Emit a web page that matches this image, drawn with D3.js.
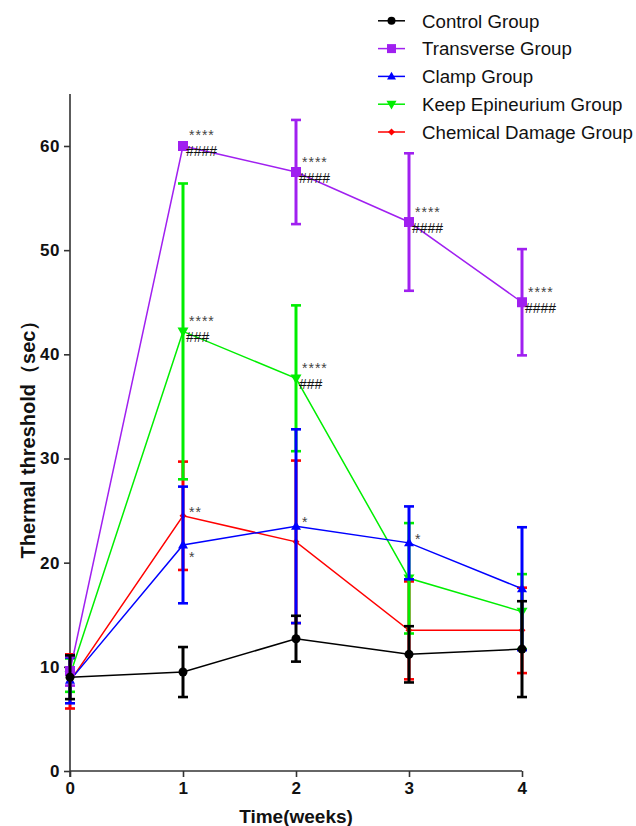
<!DOCTYPE html>
<html><head><meta charset="utf-8">
<script src="https://cdn.jsdelivr.net/npm/d3@7"></script>
<style>body{margin:0;background:#fff}svg{display:block}text{font-family:"Liberation Sans",Arial,sans-serif}</style>
</head><body><svg id="c" width="636" height="826"></svg>
<script>
const weeks = [0, 1, 2, 3, 4];
const yTicks = [0, 10, 20, 30, 40, 50, 60];
const seriesNames = ["Control Group", "Transverse Group", "Clamp Group", "Keep Epineurium Group", "Chemical Damage Group"];
const seriesColors = ["#000000", "#a020f0", "#0000ff", "#00ee00", "#ff0000"];
const seriesShapes = ["circle", "square", "triangle", "triangleDown", "diamond"];
const controlMean = [9.0, 9.5, 12.7, 11.2, 11.7];
const controlErr  = [2.1, 2.4, 2.2, 2.7, 4.6];
const transverseMean = [9.6, 60.0, 57.5, 52.7, 45.0];
const transverseErr  = [1.4, 0, 5.0, 6.6, 5.1];
const clampMean = [8.7, 21.7, 23.5, 21.9, 17.5];
const clampErr  = [2.2, 5.6, 9.3, 3.5, 5.9];
const keepMean = [9.2, 42.2, 37.7, 18.5, 15.3];
const keepErr  = [1.6, 14.2, 7.0, 5.3, 3.6];
const chemMean = [8.6, 24.5, 22.0, 13.5, 13.5];
const chemErr  = [2.6, 5.2, 7.8, 4.7, 4.1];
const annSeries = [1, 1, 1, 1, 3, 3, 4, 2, 2, 2];
const annWeek   = [1, 2, 3, 4, 1, 2, 1, 1, 2, 3];
const annStars  = ["****", "****", "****", "****", "****", "****", "**", "*", "*", "*"];
const annHash   = ["####", "####", "####", "####", "###", "###", "", "", "", ""];

const means = [controlMean, transverseMean, clampMean, keepMean, chemMean];
const errs = [controlErr, transverseErr, clampErr, keepErr, chemErr];

const svg = d3.select("#c");
const x = d3.scaleLinear().domain([0, 4]).range([70, 522]);
const y = d3.scaleLinear().domain([0, 65]).range([771, 93.9]);
const axisColor = "#333";

function shapePath(shape, s) {
  switch (shape) {
    case "circle": return d3.symbol(d3.symbolCircle, Math.PI * s * s / 4)();
    case "square": return `M${-s/2},${-s/2}h${s}v${s}h${-s}Z`;
    case "triangle": { const h = s * 0.87; return `M0,${-h*0.6}L${s/2},${h*0.4}L${-s/2},${h*0.4}Z`; }
    case "triangleDown": { const h = s * 0.87; return `M0,${h*0.6}L${s/2},${-h*0.4}L${-s/2},${-h*0.4}Z`; }
    case "diamond": return `M0,${-s/2}L${s/2},0L0,${s/2}L${-s/2},0Z`;
  }
}
const markerSize = [9, 10, 10, 11, 7];
const legendSize = [8, 9, 9, 10, 7];

// Axes
const yAxis = d3.axisLeft(y).tickValues(yTicks).tickSize(6).tickPadding(4).tickFormat(d3.format("d"));
const gy = svg.append("g").attr("transform", `translate(${x(0)},0)`).call(yAxis);
const xAxis = d3.axisBottom(x).tickValues(weeks).tickSize(6).tickPadding(5).tickFormat(d3.format("d"));
const gx = svg.append("g").attr("transform", `translate(0,${y(0)})`).call(xAxis);
[gx, gy].forEach(g => {
  g.select(".domain").remove();
  g.selectAll(".tick line").attr("stroke", axisColor).attr("stroke-width", 1.6);
  g.selectAll(".tick text").attr("fill", "#111").style("font-size", "17px").style("font-weight", "bold")
    .style("letter-spacing", "0.5px");
});
svg.append("line").attr("x1", x(0)).attr("x2", x(0)).attr("y1", y(65)).attr("y2", y(0) + 6)
  .attr("stroke", axisColor).attr("stroke-width", 1.6);
svg.append("line").attr("x1", x(0)).attr("x2", x(4)).attr("y1", y(0)).attr("y2", y(0))
  .attr("stroke", axisColor).attr("stroke-width", 1.6);

svg.append("text").attr("x", (x(0) + x(4)) / 2).attr("y", 823).attr("text-anchor", "middle")
  .style("font-size", "19px").style("font-weight", "bold").attr("fill", "#111").text("Time(weeks)");
svg.append("text").attr("transform", `translate(35,${y(32.3)}) rotate(-90)`).attr("text-anchor", "middle")
  .style("font-size", "20px").style("font-weight", "bold").attr("fill", "#111").text("Thermal threshold（sec）");

// Draw series in reverse order so control is on top
const order = [4, 3, 2, 1, 0];
const line = d3.line().x((d, i) => x(weeks[i])).y(d => y(d));
order.forEach(si => {
  const g = svg.append("g");
  const c = seriesColors[si];
  const m = means[si], e = errs[si];
  weeks.forEach((w, i) => {
    if (e[i] <= 0) return;
    const cx = x(w);
    g.append("line").attr("x1", cx).attr("x2", cx).attr("y1", y(m[i] + e[i])).attr("y2", y(m[i] - e[i]))
      .attr("stroke", c).attr("stroke-width", 3);
    [m[i] + e[i], m[i] - e[i]].forEach(v => {
      g.append("line").attr("x1", cx - 5).attr("x2", cx + 5).attr("y1", y(v)).attr("y2", y(v))
        .attr("stroke", c).attr("stroke-width", 2.6);
    });
  });
  g.append("path").attr("d", line(m)).attr("fill", "none").attr("stroke", c).attr("stroke-width", 1.5);
  weeks.forEach((w, i) => {
    g.append("path").attr("d", shapePath(seriesShapes[si], markerSize[si]))
      .attr("transform", `translate(${x(w)},${y(m[i])})`).attr("fill", c);
  });
});

// annotations: stars above, hashes below
annSeries.forEach((si, k) => {
  const wi = annWeek[k];
  const px = x(weeks[wi]), py = y(means[si][wi]);
  const below = (si === 2 && wi === 1);
  const hasHash = !!annHash[k];
  const sy = below ? py + 17 : (hasHash ? py - 5.5 : py + 1);
  svg.append("text").attr("x", px + 6).attr("y", sy).style("font-size", "14px")
    .style("letter-spacing", "1px").attr("fill", "#444").text(annStars[k]);
  if (hasHash) {
    svg.append("text").attr("x", px + 3).attr("y", py + 10.5).style("font-size", "14px")
      .attr("fill", "#111").text(annHash[k]);
  }
});

// legend
seriesNames.forEach((name, i) => {
  const ly = 20.8 + 27.8 * i;
  const g = svg.append("g");
  g.append("line").attr("x1", 378).attr("x2", 405).attr("y1", ly).attr("y2", ly)
    .attr("stroke", seriesColors[i]).attr("stroke-width", 1.5);
  g.append("path").attr("d", shapePath(seriesShapes[i], legendSize[i]))
    .attr("transform", `translate(391.5,${ly})`).attr("fill", seriesColors[i]);
  g.append("text").attr("x", 422).attr("y", ly).attr("dy", "0.36em").style("font-size", "18.7px")
    .attr("fill", "#111").text(name);
});
</script></body></html>
